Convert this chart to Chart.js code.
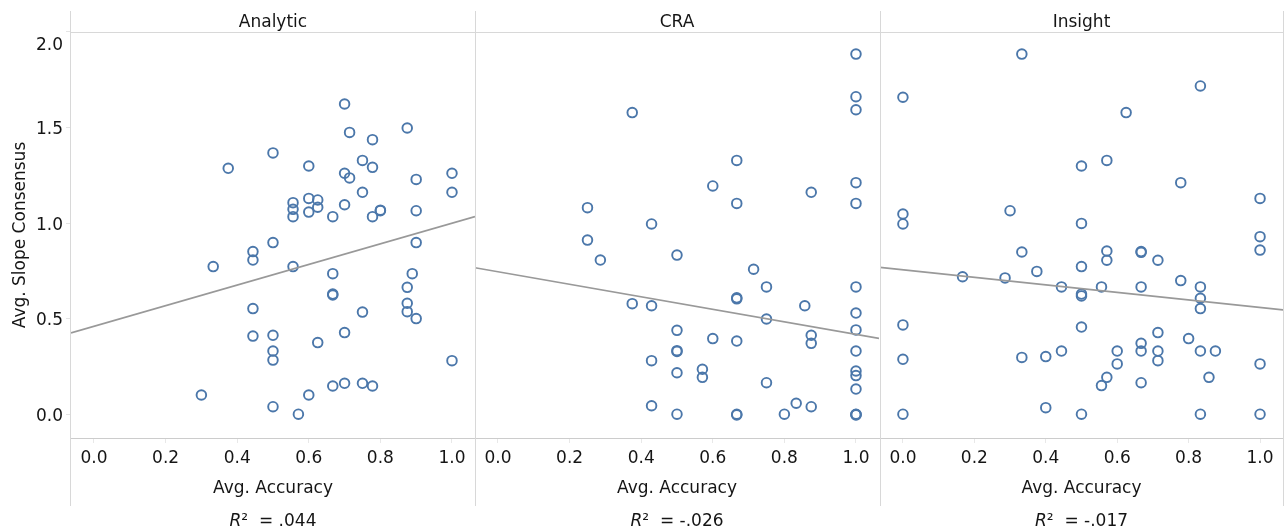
<!DOCTYPE html>
<html><head><meta charset="utf-8">
<script src="https://cdn.jsdelivr.net/npm/chart.js@4.4.1/dist/chart.umd.min.js"></script>
<style>
html,body{margin:0;padding:0;background:#fff;width:1287px;height:532px;overflow:hidden;}
canvas{position:absolute;top:0;}
</style></head><body>
<canvas id="c1" width="476" height="532" style="left:0px"></canvas>
<canvas id="c2" width="405" height="532" style="left:475px"></canvas>
<canvas id="c3" width="407" height="532" style="left:880px"></canvas>
<script>
// ---- data ----
const panels = ['Analytic', 'CRA', 'Insight'];
const rSquared = ['.044', '-.026', '-.017'];
const xTicks = [0, 0.2, 0.4, 0.6, 0.8, 1.0];
const yTicks = [0, 0.5, 1.0, 1.5, 2.0];
const xAxisTitle = 'Avg. Accuracy';
const yAxisTitle = 'Avg. Slope Consensus';

const analyticX = [0.70,0.875,0.714,0.778,0.50,0.75,0.375,0.60,0.778,0.70,0.714,0.90,1.0,0.75,1.0,0.556,0.60,0.625,0.556,0.556,0.60,0.625,0.70,0.667,0.778,0.80,0.80,0.90,0.50,0.90,0.444,0.444,0.333,0.556,0.667,0.889,0.667,0.667,0.875,0.875,0.875,0.444,0.75,0.90,0.444,0.50,0.70,0.625,0.50,0.50,1.0,0.30,0.50,0.571,0.60,0.667,0.70,0.75,0.778];
const analyticY = [1.62,1.495,1.472,1.434,1.365,1.326,1.285,1.297,1.29,1.259,1.235,1.227,1.259,1.16,1.16,1.106,1.128,1.12,1.071,1.033,1.057,1.082,1.095,1.033,1.033,1.064,1.067,1.064,0.898,0.898,0.851,0.807,0.773,0.773,0.736,0.736,0.630,0.625,0.665,0.582,0.538,0.554,0.536,0.502,0.411,0.415,0.429,0.377,0.333,0.286,0.283,0.104,0.043,0.004,0.104,0.151,0.165,0.165,0.151];

const craX = [1.0,1.0,1.0,0.375,0.667,1.0,0.60,0.875,1.0,0.667,0.25,0.429,0.25,0.50,0.286,0.714,0.75,1.0,0.667,0.667,0.375,0.429,0.857,1.0,0.75,1.0,0.50,0.875,0.875,0.60,0.667,0.50,0.50,1.0,0.429,0.50,0.571,0.571,0.75,1.0,1.0,1.0,0.429,0.50,0.667,0.667,0.80,0.833,0.875,1.0,1.0,1.0];
const craY = [1.88,1.658,1.59,1.575,1.326,1.21,1.193,1.16,1.102,1.102,1.08,0.995,0.911,0.833,0.807,0.759,0.667,0.667,0.61,0.605,0.58,0.569,0.569,0.531,0.50,0.443,0.441,0.415,0.373,0.398,0.385,0.335,0.331,0.333,0.283,0.22,0.238,0.196,0.168,0.229,0.205,0.135,0.048,0.004,0.004,0.0,0.004,0.061,0.043,0.004,0.0,0.002];

const insightX = [0.333,0.0,0.833,0.625,0.50,0.571,0.778,1.0,0.0,0.0,0.30,0.50,1.0,1.0,0.333,0.571,0.571,0.667,0.667,0.714,0.50,0.375,0.167,0.286,0.778,0.444,0.556,0.667,0.833,0.50,0.50,0.833,0.833,0.0,0.50,0.714,0.80,0.667,0.444,0.60,0.667,0.714,0.833,0.875,0.333,0.40,0.0,0.60,0.714,1.0,0.571,0.556,0.667,0.857,0.0,0.40,0.50,0.833,1.0];
const insightY = [1.88,1.655,1.714,1.575,1.297,1.326,1.21,1.128,1.047,0.995,1.064,0.998,0.929,0.859,0.849,0.854,0.806,0.851,0.847,0.806,0.773,0.748,0.72,0.714,0.70,0.667,0.667,0.667,0.667,0.63,0.62,0.608,0.554,0.469,0.458,0.429,0.398,0.373,0.333,0.333,0.333,0.333,0.333,0.333,0.30,0.304,0.29,0.266,0.283,0.266,0.196,0.153,0.168,0.196,0.004,0.038,0.004,0.004,0.004];

// trend line end values read at the left and right edges of each panel
const trendStart = [0.427, 0.767, 0.769];
const trendEnd = [1.033, 0.399, 0.547];

const seriesX = [analyticX, craX, insightX];
const seriesY = [analyticY, craY, insightY];

// ---- layout / style ----
const X_MIN = -0.0642, X_MAX = 1.0643;
const Y_MIN = -0.12, Y_MAX = 1.995;
const FONT = '"DejaVu Sans", "Liberation Sans", sans-serif';
const FS = 17;
const TEXT = '#151515';
const SEP = '#d8d8d8';

const facetPlugin = {
  id: 'facet',
  afterDraw(chart, args, opts) {
    const { ctx, chartArea: a, scales } = chart;
    const idx = opts.idx;
    ctx.save();
    // frame lines
    ctx.strokeStyle = SEP; ctx.lineWidth = 1;
    ctx.beginPath();
    const lx = idx === 0 ? Math.round(a.left) - 0.5 : 0.5;
    ctx.moveTo(lx, 11); ctx.lineTo(lx, 506);
    if (idx === 2) { const rx = Math.round(a.right) + 0.5; ctx.moveTo(rx, 11); ctx.lineTo(rx, 506); }
    ctx.moveTo(lx, 32.5); ctx.lineTo(idx === 2 ? a.right + 1 : chart.width, 32.5);
    ctx.stroke();

    ctx.fillStyle = TEXT;
    ctx.font = FS + 'px ' + FONT;
    const cx = (a.left + a.right) / 2;
    // panel title
    ctx.textAlign = 'center'; ctx.textBaseline = 'alphabetic';
    ctx.fillText(panels[idx], cx, 27);
    // x tick labels
    xTicks.forEach(v => {
      ctx.fillText(v.toFixed(1), scales.x.getPixelForValue(v), 463);
    });
    // x axis title
    ctx.fillText(xAxisTitle, cx, 493);
    // R² line
    const partR = 'R', partSup = '²', partRest = '  = ' + rSquared[idx];
    ctx.font = 'italic ' + FS + 'px ' + FONT;
    const wR = ctx.measureText(partR).width;
    ctx.font = FS + 'px ' + FONT;
    const wS = ctx.measureText(partSup).width;
    const wRest = ctx.measureText(partRest).width;
    let sx = cx - (wR + wS + wRest) / 2;
    ctx.textAlign = 'left';
    ctx.font = 'italic ' + FS + 'px ' + FONT;
    ctx.fillText(partR, sx, 526); sx += wR;
    ctx.font = FS + 'px ' + FONT;
    ctx.fillText(partSup, sx, 526); sx += wS;
    ctx.fillText(partRest, sx, 526);

    if (idx === 0) {
      // y tick labels
      ctx.textAlign = 'right';
      yTicks.forEach(v => {
        const py = scales.y.getPixelForValue(v);
        const base = Math.max(py + 6.5, a.top + 18);
        ctx.fillText(v.toFixed(1), 63, base);
      });
      // y axis title
      ctx.save();
      ctx.translate(25, (a.top + a.bottom) / 2);
      ctx.rotate(-Math.PI / 2);
      ctx.textAlign = 'center';
      ctx.fillText(yAxisTitle, 0, 0);
      ctx.restore();
    }
    ctx.restore();
  }
};

function makeChart(id, idx) {
  const xs = seriesX[idx], ys = seriesY[idx];
  const points = xs.map((x, i) => ({ x: x, y: ys[i] }));
  const padRight = idx === 2 ? 4 : 1;
  new Chart(document.getElementById(id), {
    type: 'scatter',
    data: {
      datasets: [
        {
          data: [{ x: X_MIN, y: trendStart[idx] }, { x: X_MAX, y: trendEnd[idx] }],
          showLine: true, borderColor: '#999999', borderWidth: 1.7,
          pointRadius: 0, order: 0
        },
        {
          data: points, pointStyle: 'circle', pointRadius: 4.8, pointBorderWidth: 1.9,
          pointBorderColor: '#4b77aa', pointBackgroundColor: 'rgba(255,255,255,0)',
          borderColor: '#4b77aa', backgroundColor: 'rgba(255,255,255,0)', order: 1
        }
      ]
    },
    options: {
      responsive: false, animation: false, events: [],
      layout: { autoPadding: false, padding: { top: 32, left: 0, right: padRight, bottom: 0 } },
      plugins: { legend: { display: false }, tooltip: { enabled: false }, title: { display: false }, facet: { idx: idx } },
      scales: {
        x: {
          type: 'linear', min: X_MIN, max: X_MAX,
          afterBuildTicks: s => { s.ticks = xTicks.map(v => ({ value: v })); },
          afterFit: s => { s.height = 94; },
          ticks: { display: false },
          grid: { drawOnChartArea: false, drawTicks: true, tickLength: 5, color: '#e8e8e8' },
          border: { display: true, color: '#cccccc' }
        },
        y: {
          type: 'linear', min: Y_MIN, max: Y_MAX, display: idx === 0,
          afterBuildTicks: s => { s.ticks = yTicks.map(v => ({ value: v })); },
          afterFit: s => { s.width = idx === 0 ? 71 : 0; },
          ticks: { display: false },
          grid: { drawOnChartArea: false, drawTicks: true, tickLength: 5, color: '#e4e4e4' },
          border: { display: false }
        }
      }
    },
    plugins: [facetPlugin]
  });
}
makeChart('c1', 0);
makeChart('c2', 1);
makeChart('c3', 2);
</script>
</body></html>
